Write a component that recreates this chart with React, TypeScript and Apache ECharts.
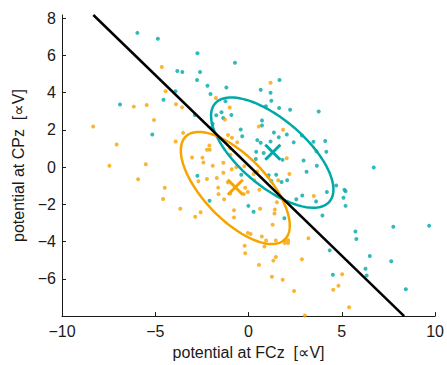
import React, { useEffect, useRef } from "react";
import * as echarts from "echarts";

// Class 1 (teal) samples: [FCz, CPz]
const tealPoints: number[][] = [
  [-5.96, 7.21], [-4.86, 6.9], [-2.74, 6.12], [-0.73, 5.61], [-3.82, 5.16], [-3.55, 5.11],
  [-2.6, 5.11], [-2.76, 4.68], [-2.2, 4.37], [-1.19, 4.28], [-3.92, 4.08], [-4.56, 3.62],
  [-2.04, 3.93], [-6.89, 3.36], [-1.24, 3.54], [-2.88, 2.8], [-1.73, 2.79], [-1.45, 2.95],
  [-0.92, 2.8], [-1.36, 2.64], [-1.93, 2.33], [-1.98, 2.11], [-5.16, 1.75], [-0.42, 2.02],
  [-0.34, 1.66], [1.66, 4.68], [0.65, 4.15], [1.18, 3.99], [1.22, 3.57], [0.93, 3.27],
  [1.64, 3.18], [2.23, 3.08], [3.76, 2.99], [0.72, 2.51], [0.72, 2.24], [1.36, 1.86],
  [1.62, 1.61], [2.05, 1.75], [2.86, 1.7], [0.47, 1.45], [0.65, 1.31], [1.18, 1.38],
  [2.42, 1.33], [3.48, 1.36], [4.11, 1.4], [0.41, 0.83], [0.81, 0.76], [3.64, 0.85],
  [4.17, 0.83], [0.39, 0.44], [1.82, 0.39], [2.95, 0.36], [3.66, 0.07], [6.71, -0.02],
  [3.11, -0.25], [1.08, -0.44], [1.48, -0.41], [1.22, -0.74], [1.77, -0.8], [2.07, -0.71],
  [4.7, -0.99], [5.14, -1.22], [5.2, -1.29], [4.2, -1.34], [2.88, -1.52], [2.56, -1.73],
  [5.09, -1.64], [3.62, -1.84], [5.2, -2.08], [-2.74, -0.46], [-2.09, -1.8], [-0.01, -2.08],
  [0.27, -2.4], [-0.39, -0.41], [1.92, -2.74], [3.96, -2.6], [5.73, -3.46], [5.78, -3.86],
  [7.76, -3.2], [9.68, -3.15], [4.35, -4.47], [6.5, -4.77], [7.65, -5.06], [6.27, -5.46],
  [6.33, -5.82], [4.52, -5.78], [8.43, -6.56],
];

// Class 2 (orange) samples: [FCz, CPz]
const orangePoints: number[][] = [
  [-4.65, 5.38], [-4.45, 4.07], [-6.15, 3.25], [-5.46, 3.34], [-3.89, 3.38], [-3.56, 3.21],
  [-5.07, 2.53], [-8.33, 2.18], [-3.51, 1.84], [-3.91, 1.38], [-7.07, 1.22], [1.18, 4.53],
  [-1.75, 3.71], [-1.01, 3.2], [-1.27, 2.56], [0.55, 2.18], [1.85, 2.01], [-1.1, 1.72],
  [-0.89, 1.58], [-0.61, 1.33], [-2.1, 1.16], [-2.23, 0.93], [-2.08, 0.93], [-3.03, 0.52],
  [-2.47, 0.51], [-2.42, 0.25], [-1.92, 0.07], [-0.97, 0.66], [2.05, 0.48], [2.19, -0.37],
  [-1.35, 0.23], [-0.9, -0.11], [-0.66, 0.0], [-0.23, 0.05], [-1.35, -0.3], [-1.7, -0.58],
  [-2.23, -0.64], [-2.69, -0.76], [-1.11, -0.81], [-0.18, -1.11], [-0.04, -1.34], [-0.25, -1.45],
  [-0.98, -1.42], [-1.63, -1.1], [-1.61, -1.45], [-1.31, -1.73], [0.46, -0.23], [0.3, -0.71],
  [0.58, -1.22], [-4.49, -1.11], [-4.58, -1.71], [-3.66, -2.23], [-2.57, -2.42], [-2.86, -2.67],
  [-0.78, -2.32], [-0.78, -2.71], [0.62, -2.24], [1.41, -2.27], [-0.04, -3.53], [0.11, -3.59],
  [0.71, -3.73], [0.94, -3.94], [1.29, -3.09], [-0.21, -4.22], [0.85, -4.26], [1.52, -1.89],
  [1.39, -2.49], [1.46, -3.94], [1.94, -3.93], [2.12, -3.93], [1.94, -4.07], [2.12, -4.07],
  [-0.18, -4.63], [3.21, -3.82], [1.46, -4.83], [1.33, -5.02], [2.86, -4.95], [0.56, -5.25],
  [1.25, -5.89], [1.83, -6.05], [2.44, -6.65], [5.02, -5.75], [4.82, -6.37], [4.54, -6.59],
  [5.39, -7.53], [3.02, -7.97], [-7.46, 0.07], [-5.92, -0.65], [-5.51, 0.16], [3.5, -1.55],
  [1.59, -0.71], [0.28, -0.37], [-0.99, 1.01],
];

// Class means (crosses)
const tealMean = [1.3, 0.8];
const orangeMean = [-0.71, -1.08];

// Covariance ellipses: [centerX, centerY, halfExtentX, halfExtentY, correlation]
const tealEllipse = [1.27, 0.78, 3.28, 2.96, -0.67];
const orangeEllipse = [-0.71, -1.12, 2.92, 3.01, -0.67];

// Decision boundary endpoints
const boundaryLine: number[][] = [
  [-8.32, 8.17],
  [8.34, -8.0],
];

const xTicks = [-10, -5, 0, 5, 10];
const yTicks = [-6, -4, -2, 0, 2, 4, 6, 8];

const TEAL = "#00A8A8";
const ORANGE = "#F7A300";
const FONT = "'Liberation Sans', Arial, 'DejaVu Sans', sans-serif";

const fmt = (v: number) => String(v).replace("-", "\u2212");

function ellipseSeries(params: number[], color: string) {
  return {
    type: "custom",
    coordinateSystem: "cartesian2d",
    data: [[params[0], params[1]]],
    z: 3,
    silent: true,
    renderItem: (_p: any, api: any) => {
      const [cx, cy, hx, hy, rho] = params;
      const pts: number[][] = [];
      const n = 160;
      for (let i = 0; i <= n; i++) {
        const t = (i / n) * Math.PI * 2;
        const x = cx + hx * Math.cos(t);
        const y = cy + hy * (rho * Math.cos(t) + Math.sqrt(1 - rho * rho) * Math.sin(t));
        pts.push(api.coord([x, y]));
      }
      return {
        type: "polyline",
        shape: { points: pts },
        style: { stroke: color, lineWidth: 2.5, fill: "none" },
      };
    },
  };
}

function crossSeries(mean: number[], color: string) {
  return {
    type: "custom",
    coordinateSystem: "cartesian2d",
    data: [mean],
    z: 4,
    silent: true,
    renderItem: (_p: any, api: any) => {
      const c = api.coord([mean[0], mean[1]]);
      const h = 7.5;
      return {
        type: "group",
        children: [
          {
            type: "line",
            shape: { x1: c[0] - h, y1: c[1] - h, x2: c[0] + h, y2: c[1] + h },
            style: { stroke: color, lineWidth: 3 },
          },
          {
            type: "line",
            shape: { x1: c[0] - h, y1: c[1] + h, x2: c[0] + h, y2: c[1] - h },
            style: { stroke: color, lineWidth: 3 },
          },
        ],
      };
    },
  };
}

export default function App() {
  const ref = useRef<HTMLDivElement>(null);
  useEffect(() => {
    if (!ref.current) return;
    const chart = echarts.init(ref.current, undefined, { renderer: "svg" });
    chart.setOption({
      animation: false,
      backgroundColor: "#ffffff",
      textStyle: { fontFamily: FONT },
      grid: { left: 62, right: 8, top: 15, bottom: 46, containLabel: false },
      xAxis: {
        type: "value",
        min: -10,
        max: 10,
        interval: 5,
        name: "potential at FCz  [∝V]",
        nameLocation: "middle",
        nameGap: 25,
        nameTextStyle: { fontSize: 16, color: "#1a1a1a", fontFamily: FONT },
        axisLine: { onZero: false, lineStyle: { color: "#1a1a1a", width: 1 } },
        axisTick: { inside: true, length: 4, lineStyle: { color: "#1a1a1a" }, customValues: xTicks },
        axisLabel: {
          fontSize: 16,
          color: "#1a1a1a",
          margin: 7,
          fontFamily: FONT,
          customValues: xTicks,
          formatter: fmt,
        },
        splitLine: { show: false },
      },
      yAxis: {
        type: "value",
        min: -8,
        max: 8.17,
        interval: 2,
        name: "potential at CPz  [∝V]",
        nameLocation: "middle",
        nameRotate: 90,
        nameGap: 32,
        nameTextStyle: { fontSize: 16, color: "#1a1a1a", fontFamily: FONT },
        axisLine: { onZero: false, lineStyle: { color: "#1a1a1a", width: 1 } },
        axisTick: { inside: true, length: 4, lineStyle: { color: "#1a1a1a" }, customValues: yTicks },
        axisLabel: {
          fontSize: 16,
          color: "#1a1a1a",
          margin: 6,
          fontFamily: FONT,
          customValues: yTicks,
          formatter: fmt,
        },
        splitLine: { show: false },
      },
      series: [
        {
          type: "scatter",
          data: tealPoints,
          symbol: "circle",
          symbolSize: 4,
          itemStyle: { color: TEAL },
          z: 2,
        },
        {
          type: "scatter",
          data: orangePoints,
          symbol: "circle",
          symbolSize: 4,
          itemStyle: { color: ORANGE },
          z: 2,
        },
        ellipseSeries(tealEllipse, TEAL),
        ellipseSeries(orangeEllipse, ORANGE),
        crossSeries(tealMean, TEAL),
        crossSeries(orangeMean, ORANGE),
        {
          type: "line",
          data: boundaryLine,
          symbol: "none",
          lineStyle: { color: "#000", width: 2.5 },
          z: 5,
          silent: true,
        },
      ],
    });
    return () => chart.dispose();
  }, []);
  return (
    <div
      ref={ref}
      style={{ position: "fixed", left: 0, top: 0, width: 447, height: 365, background: "#fff" }}
    />
  );
}
